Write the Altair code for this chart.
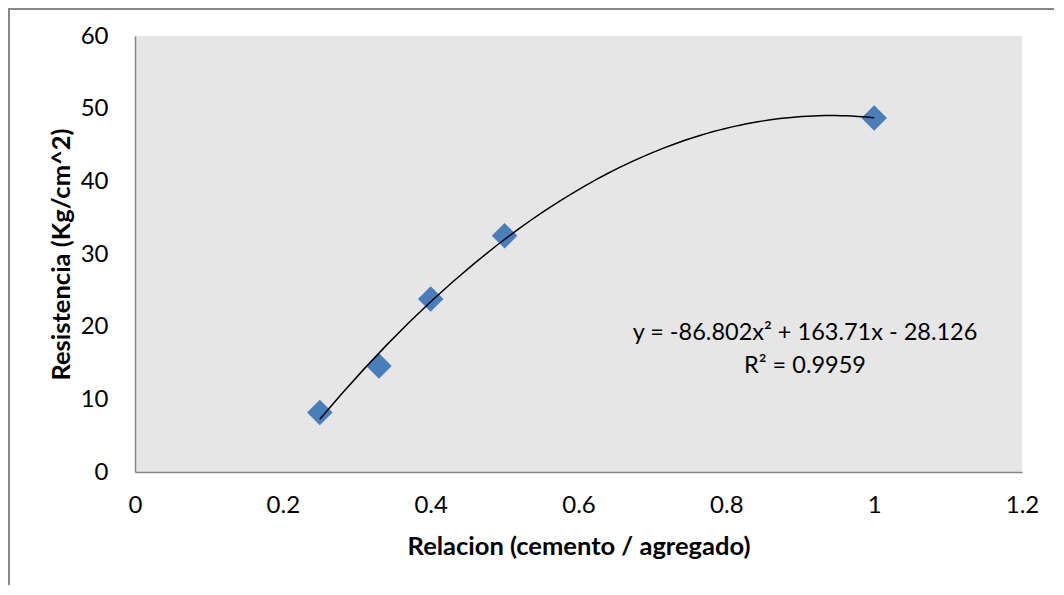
import altair as alt
import pandas as pd

# Data
relacion = [0.25, 0.33, 0.40, 0.50, 1.00]
resistencia = [8.2, 14.6, 23.8, 32.5, 48.7]
x_ticks = [0, 0.2, 0.4, 0.6, 0.8, 1.0, 1.2]
y_ticks = [0, 10, 20, 30, 40, 50, 60]
eq_lines = ["y = -86.802x\u00b2 + 163.71x - 28.126", "R\u00b2 = 0.9959"]

df = pd.DataFrame({"x": relacion, "y": resistencia})

FONT = "Lato"
AXIS_GRAY = "#868686"

x_enc = alt.X(
    "x:Q",
    scale=alt.Scale(domain=[0, 1.2], nice=False, zero=False),
    axis=alt.Axis(
        values=x_ticks, format=".1~f", title="Relacion (cemento / agregado)",
        grid=False, ticks=False, domainColor=AXIS_GRAY, domainWidth=1.5,
        labelFlush=False, labelOverlap=False,
        labelFontSize=24, labelPadding=21, labelColor="#000000", labelFont=FONT,
        titleFontSize=25.5, titleFont=FONT, titleFontWeight="bold", titleColor="#000000",
        titlePadding=17,
    ),
)
y_enc = alt.Y(
    "y:Q",
    scale=alt.Scale(domain=[0, 60], nice=False, zero=True),
    axis=alt.Axis(
        values=y_ticks, title="Resistencia (Kg/cm^2)",
        grid=False, ticks=False, domainColor=AXIS_GRAY, domainWidth=1.5,
        labelFlush=False, labelOverlap=False,
        labelFontSize=24, labelPadding=27, labelColor="#000000", labelFont=FONT,
        titleFontSize=25.5, titleFont=FONT, titleFontWeight="bold", titleColor="#000000",
        titlePadding=6,
    ),
)

border = alt.Chart(pd.DataFrame({"b": [0]})).mark_rect(
    fill="transparent", stroke="#878787", strokeWidth=2
).encode(
    x=alt.value(-126), x2=alt.value(1000),
    y=alt.value(-27), y2=alt.value(700),
)

points = alt.Chart(df).mark_point(
    shape="diamond", filled=True, size=650, color="#4A7EBB", opacity=1
).encode(x=x_enc, y=y_enc)

trend = alt.Chart(df).transform_regression(
    "x", "y", method="poly", order=2
).mark_line(color="#000000", strokeWidth=1.5).encode(x=x_enc, y=y_enc)

label = alt.Chart(pd.DataFrame({"t": [0]})).mark_text(
    font=FONT, fontSize=23.5, color="#000000", align="center", baseline="middle",
    lineHeight=33,
).encode(
    x=alt.value(670), y=alt.value(297), text=alt.value(eq_lines)
)

chart = alt.layer(border, points, trend, label).properties(
    width=887, height=436,
    background="#FFFFFF",
    autosize=alt.AutoSizeParams(type="none"),
    padding={"left": 127, "top": 28, "right": 32, "bottom": 113},
).configure_view(
    fill="#E6E6E6", stroke=None
)

chart.save("out.html", embed_options={"renderer": "svg", "actions": False})
